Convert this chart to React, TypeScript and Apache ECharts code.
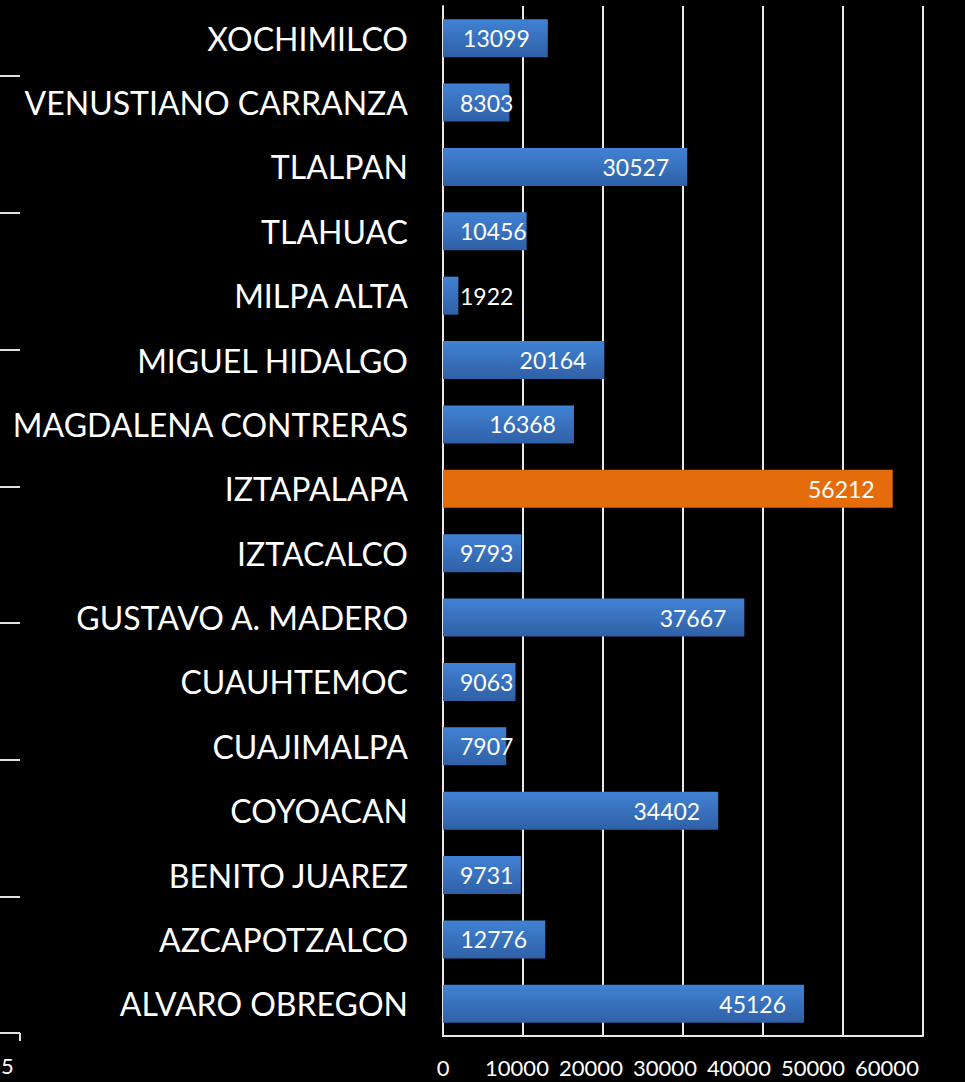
import React, { useEffect, useRef } from "react";
import * as echarts from "echarts";

const categories = [
  "ALVARO OBREGON",
  "AZCAPOTZALCO",
  "BENITO JUAREZ",
  "COYOACAN",
  "CUAJIMALPA",
  "CUAUHTEMOC",
  "GUSTAVO A. MADERO",
  "IZTACALCO",
  "IZTAPALAPA",
  "MAGDALENA CONTRERAS",
  "MIGUEL HIDALGO",
  "MILPA ALTA",
  "TLAHUAC",
  "TLALPAN",
  "VENUSTIANO CARRANZA",
  "XOCHIMILCO",
];

const values = [
  45126, 12776, 9731, 34402, 7907, 9063, 37667, 9793, 56212, 16368, 20164,
  1922, 10456, 30527, 8303, 13099,
];

const highlighted = ["IZTAPALAPA"];

const xTickValues = [0, 10000, 20000, 30000, 40000, 50000, 60000];
const leftTickYs = [76, 213, 350, 487, 623, 760, 897, 1033];
const cornerLabel = "5";

const FONT = "Lato";

export default function App() {
  const ref = useRef<HTMLDivElement>(null);

  useEffect(() => {
    if (!ref.current) return;
    const chart = echarts.init(ref.current, null, { renderer: "svg" });

    const xMax = xTickValues[xTickValues.length - 1];
    const xInterval = xTickValues[1] - xTickValues[0];
    const plotWidth = 480;
    const pxPerUnit = plotWidth / xMax;

    const blueGrad = new echarts.graphic.LinearGradient(0, 0, 0, 1, [
      { offset: 0, color: "#4182D4" },
      { offset: 1, color: "#2F60A6" },
    ]);

    const data = values.map((v, i) => {
      const name = categories[i];
      const digits = String(v).length;
      const labelW = digits * 13;
      const barPx = v * pxPerUnit;
      const fitsInside = barPx - 18 - labelW >= 17;
      return {
        value: v,
        itemStyle: highlighted.includes(name) ? { color: "#E46C0A" } : { color: blueGrad },
        label: fitsInside
          ? { position: "insideRight", distance: 18 }
          : { position: "insideLeft", distance: 17 },
      };
    });

    const graphics: any[] = leftTickYs.map((y) => ({
      type: "line",
      shape: { x1: 0, y1: y, x2: 20, y2: y },
      style: { stroke: "#E0E0E0", lineWidth: 2 },
    }));
    graphics.push({
      type: "line",
      shape: { x1: 20, y1: leftTickYs[leftTickYs.length - 1], x2: 20, y2: 1041 },
      style: { stroke: "#E0E0E0", lineWidth: 2 },
    });
    graphics.push({
      type: "text",
      x: 1,
      y: 1054,
      style: { text: cornerLabel, fill: "#ffffff", font: `22px ${FONT}` },
    });

    chart.setOption({
      animation: false,
      backgroundColor: "#000000",
      grid: { left: 443, right: 42, top: 6, bottom: 46, containLabel: false },
      xAxis: [
        {
          type: "value",
          min: 0,
          max: xMax,
          interval: xInterval,
          axisLine: { show: true, lineStyle: { color: "#E8E8E8", width: 2 } },
          axisTick: { show: false },
          axisLabel: { show: false },
          splitLine: { show: true, lineStyle: { color: "#E8E8E8", width: 2 } },
        },
        {
          type: "value",
          position: "bottom",
          min: 0,
          max: (xMax * 80) / 74,
          interval: xInterval,
          axisLine: { show: false },
          axisTick: { show: false },
          splitLine: { show: false },
          axisLabel: {
            show: true,
            showMaxLabel: false,
            color: "#ffffff",
            fontFamily: FONT,
            fontSize: 22,
            margin: 20,
            formatter: (v: number) => (v <= xMax ? String(v) : ""),
          },
        },
      ],
      yAxis: {
        type: "category",
        data: categories,
        axisLine: { show: true, lineStyle: { color: "#E8E8E8", width: 2 } },
        axisTick: { show: false },
        axisLabel: {
          color: "#ffffff",
          fontFamily: FONT,
          fontSize: 32,
          margin: 35,
        },
        splitLine: { show: false },
      },
      series: [
        {
          type: "bar",
          xAxisIndex: 0,
          data,
          barCategoryGap: "41%",
          label: {
            show: true,
            color: "#ffffff",
            fontFamily: FONT,
            fontSize: 23,
          },
        },
      ],
      graphic: graphics,
    });

    return () => chart.dispose();
  }, []);

  return (
    <div
      ref={ref}
      style={{ position: "fixed", left: 0, top: 0, width: 965, height: 1082, background: "#000" }}
    />
  );
}
